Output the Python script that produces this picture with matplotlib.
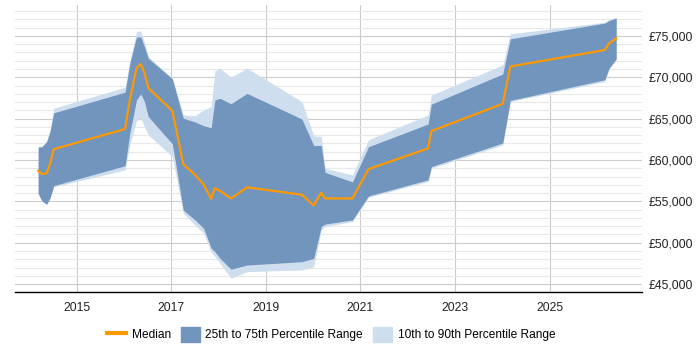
import matplotlib.pyplot as plt
from matplotlib.lines import Line2D
from matplotlib.patches import Patch
import matplotlib.ticker as mticker
import numpy as np

plt.rcParams['font.family'] = ['Liberation Sans', 'DejaVu Sans']

# dates as decimal years
dates = [2014.18, 2014.26, 2014.36, 2014.43, 2014.51, 2016.02, 2016.12, 2016.26,
         2016.35, 2016.43, 2016.51, 2017.02, 2017.25, 2017.50, 2017.68, 2017.84,
         2017.92, 2018.03, 2018.26, 2018.60, 2019.76, 2020.01, 2020.17, 2020.25,
         2020.83, 2021.17, 2022.43, 2022.50, 2024.01, 2024.17, 2026.17, 2026.26,
         2026.41]

median = [58700, 58300, 58400, 59500, 61300, 63750, 67250, 71100,
          71600, 70550, 68700, 65950, 59500, 58200, 57050, 55300,
          56600, 56250, 55350, 56700, 55800, 54500, 56050, 55350,
          55350, 58900, 61400, 63500, 66800, 71300, 73300, 74100,
          74700]

p75 = [61550, 61600, 62200, 63400, 65700, 68200, 71700, 74850,
       74900, 73700, 72300, 69800, 65050, 64600, 64150, 63900,
       67250, 67450, 66800, 68050, 64950, 61750, 61750, 58500,
       57350, 61600, 64350, 66750, 70400, 74650, 76550, 76850,
       77150]

p25 = [55950, 55050, 54650, 55400, 56900, 59300, 63250, 67250,
       68000, 67050, 65250, 61950, 53950, 52750, 51750, 49350,
       48900, 48100, 46800, 47300, 47700, 48100, 51950, 52250,
       52750, 55650, 57600, 59200, 62050, 67200, 69700, 71100,
       72200]

p90 = [61600, 61650, 62300, 63700, 66250, 68800, 71900, 75500,
       75600, 74200, 72500, 69900, 65450, 65350, 66050, 66450,
       70800, 71100, 70000, 71100, 67050, 62900, 62850, 59000,
       58200, 62450, 65450, 67850, 71500, 75250, 76650, 77050,
       77200]

p10 = [55950, 55000, 54600, 55350, 56750, 58800, 61800, 64750,
       65050, 64050, 63050, 60400, 53550, 52150, 51150, 48900,
       48300, 47500, 45700, 46500, 46700, 47100, 51550, 51950,
       52550, 55500, 57400, 59000, 61800, 67050, 69500, 71000,
       72200]

dark = '#7195bd'
light = '#cfdeee'
orange = '#ff9900'

fig = plt.figure(figsize=(7, 3.5), dpi=100)
ax = fig.add_axes([0.0214, 0.166, 0.896, 0.82])

ax.fill_between(dates, p10, p90, color=light, lw=0)
ax.fill_between(dates, p25, p75, color=dark, lw=0)
ax.plot(dates, median, color=orange, lw=1.6)

ax.set_xlim(2013.69, 2026.96)
ax.set_ylim(44050, 78750)

ax.yaxis.tick_right()
ax.yaxis.set_major_locator(mticker.MultipleLocator(5000))
ax.yaxis.set_minor_locator(mticker.MultipleLocator(1000))
ax.yaxis.set_major_formatter(mticker.FuncFormatter(lambda v, p: '£{:,.0f}'.format(v)))
ax.set_xticks([2015, 2017, 2019, 2021, 2023, 2025])
ax.set_xticklabels(['2015', '2017', '2019', '2021', '2023', '2025'])

ax.grid(axis='y', which='major', color='#cccccc', lw=0.8)
ax.grid(axis='y', which='minor', color='#e8e8e8', lw=0.8)
ax.grid(axis='x', which='major', color='#cccccc', lw=0.8)
ax.set_axisbelow(True)

ax.tick_params(axis='both', which='both', length=0, labelsize=8.7, colors='#222222')
ax.tick_params(axis='y', pad=5)
ax.tick_params(axis='x', pad=7)
for s in ['left', 'right', 'top']:
    ax.spines[s].set_visible(False)
ax.spines['bottom'].set_color('black')
ax.spines['bottom'].set_linewidth(1)

handles = [Line2D([], [], color=orange, lw=3),
           Patch(color=dark), Patch(color=light)]
labels = ['Median', '25th to 75th Percentile Range', '10th to 90th Percentile Range']
fig.legend(handles, labels, loc='center', bbox_to_anchor=(0.473, 0.045), ncol=3,
           frameon=False, fontsize=8.6, handlelength=1.6, handleheight=1.5,
           columnspacing=0.85, handletextpad=0.45)

fig.savefig('out.png', dpi=100)
